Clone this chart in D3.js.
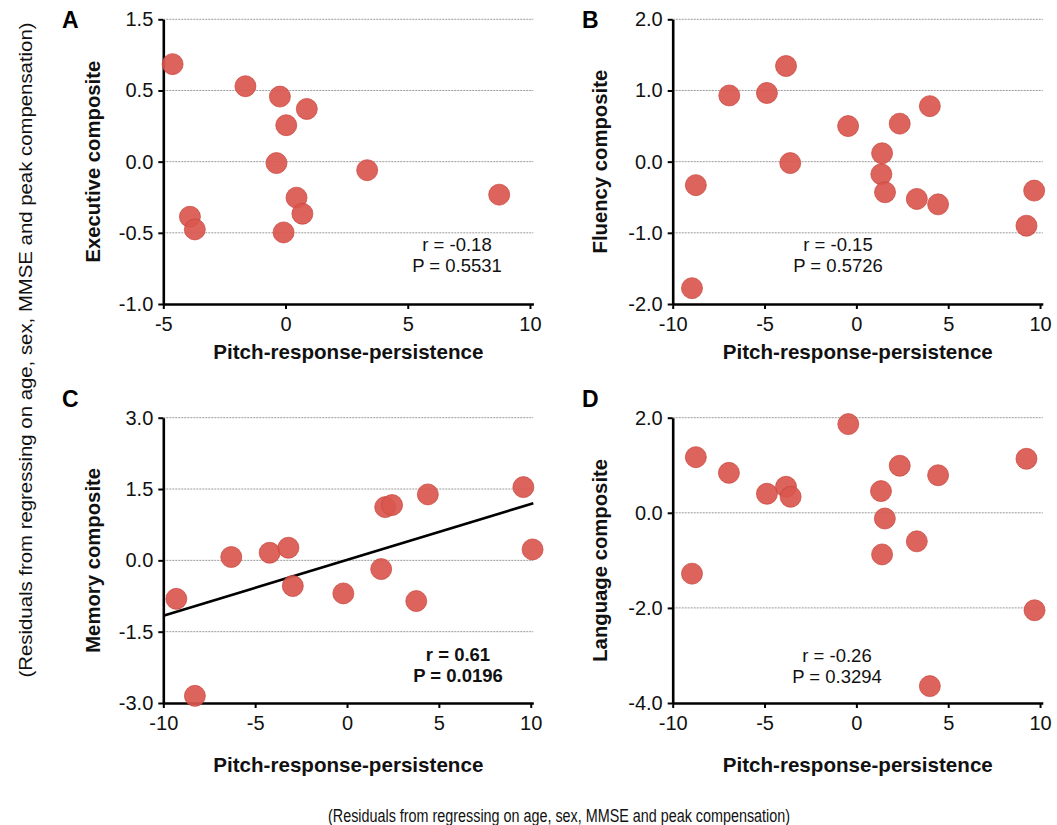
<!DOCTYPE html>
<html>
<head>
<meta charset="utf-8">
<script src="https://cdn.jsdelivr.net/npm/d3@7"></script>
<style>
  html, body { margin: 0; padding: 0; background: #fff; }
  svg { display: block; font-family: "Liberation Sans", Arial, Helvetica, sans-serif; }
</style>
</head>
<body>
<svg id="chart" width="1057" height="825"></svg>
<script>
// ---------------- DATA ----------------
const panelLetters = ["A", "B", "C", "D"];
const yLabels = ["Executive composite", "Fluency composite", "Memory composite", "Language composite"];
const xLabel = "Pitch-response-persistence";
const residualNote = "(Residuals from regressing on age, sex, MMSE and peak compensation)";

const xTicksA = [-5, 0, 5, 10];
const xTicksBCD = [-10, -5, 0, 5, 10];
// Panel A: tick positions and the labels printed at them (top tick is printed "1.5" in the original)
const yTicksA = [-1.0, -0.5, 0.0, 0.5, 1.0];
const yTickLabelsA = ["-1.0", "-0.5", "0.0", "0.5", "1.5"];
const yTicksB = [-2.0, -1.0, 0.0, 1.0, 2.0];
const yTicksC = [-3.0, -1.5, 0.0, 1.5, 3.0];
const yTicksD = [-4.0, -2.0, 0.0, 2.0];

// Panel A: Executive composite
const xA = [-4.62, -1.64, -0.23, 0.87, 0.03, -0.37, 3.34, 8.74, 0.45, 0.69, -3.91, -3.71, -0.08];
const yA = [0.685, 0.53, 0.457, 0.37, 0.256, -0.01, -0.06, -0.232, -0.253, -0.366, -0.387, -0.476, -0.497];

// Panel B: Fluency composite
const xB = [-6.92, -4.87, -3.83, -0.45, 2.36, 4.0, -8.74, -3.6, 1.40, 1.36, 1.56, 3.29, 4.45, 9.68, 9.26, -8.95];
const yB = [0.93, 0.965, 1.344, 0.50, 0.534, 0.78, -0.33, -0.02, 0.118, -0.177, -0.43, -0.524, -0.60, -0.407, -0.90, -1.778];

// Panel C: Memory composite
const xC = [-9.29, -8.28, -6.30, -4.21, -3.19, -2.95, -0.2, 1.86, 2.08, 2.45, 4.40, 3.77, 9.6, 10.1];
const yC = [-0.81, -2.85, 0.07, 0.16, 0.265, -0.54, -0.695, -0.183, 1.12, 1.163, 1.387, -0.856, 1.54, 0.23];
const fitXC = [-10, 10.14];
const fitYC = [-1.165, 1.20];

// Panel D: Language composite
const xD = [-0.44, -8.74, -6.94, -4.87, -3.83, -3.58, 2.36, 4.45, 9.26, 1.34, 1.55, 3.29, 1.40, -8.95, 9.70, 4.0];
const yD = [1.865, 1.17, 0.84, 0.40, 0.547, 0.337, 0.99, 0.79, 1.136, 0.456, -0.12, -0.60, -0.875, -1.28, -2.05, -3.645];

const statR = ["r = -0.18", "r = -0.15", "r = 0.61", "r = -0.26"];
const statP = ["P = 0.5531", "P = 0.5726", "P = 0.0196", "P = 0.3294"];
const statBold = [false, false, true, false];

// ---------------- LAYOUT ----------------
const panels = [
  { xs: xA, ys: yA, xDom: [-5, 10.14], yDom: [-1.0, 1.0], xT: xTicksA, yT: yTicksA, yTL: yTickLabelsA,
    left: 163.3, right: 533.4, top: 19.3, bottom: 304, statX: 457, statY: 251 },
  { xs: xB, ys: yB, xDom: [-10, 10.15], yDom: [-2.0, 2.0], xT: xTicksBCD, yT: yTicksB,
    left: 672.7, right: 1042.8, top: 19.3, bottom: 304, statX: 838, statY: 251 },
  { xs: xC, ys: yC, xDom: [-10, 10.14], yDom: [-3.0, 3.0], xT: xTicksBCD, yT: yTicksC,
    left: 163.3, right: 533.3, top: 417.7, bottom: 703, statX: 458, statY: 661,
    fit: { xs: fitXC, ys: fitYC } },
  { xs: xD, ys: yD, xDom: [-10, 10.15], yDom: [-4.0, 2.0], xT: xTicksBCD, yT: yTicksD,
    left: 672.7, right: 1042.8, top: 417.7, bottom: 703, statX: 837, statY: 662 }
];

const svg = d3.select("#chart");
const dotFill = "#d9574e";
const fmtX = d => String(d);

panels.forEach((p, i) => {
  const x = d3.scaleLinear().domain(p.xDom).range([p.left, p.right]);
  const y = d3.scaleLinear().domain(p.yDom).range([p.bottom, p.top]);
  const g = svg.append("g");
  const fmtY = p.yTL ? (d => p.yTL[p.yT.indexOf(d)]) : (d => d.toFixed(1));

  // gridlines (dotted)
  g.append("g").selectAll("line")
    .data(p.yT.filter(v => v !== p.yDom[0]))
    .join("line")
    .attr("x1", p.left).attr("x2", p.right)
    .attr("y1", d => y(d)).attr("y2", d => y(d))
    .attr("stroke", "#9a9a9a").attr("stroke-width", 1)
    .attr("stroke-dasharray", "2,1");

  // y axis
  const yAxis = d3.axisLeft(y).tickValues(p.yT).tickFormat(fmtY).tickSize(5).tickSizeOuter(0).tickPadding(5);
  const ya = g.append("g").attr("transform", `translate(${p.left},0)`).call(yAxis);
  // x axis
  const xAxis = d3.axisBottom(x).tickValues(p.xT).tickFormat(fmtX).tickSize(5).tickSizeOuter(0).tickPadding(8);
  const xa = g.append("g").attr("transform", `translate(0,${p.bottom})`).call(xAxis);

  [ya, xa].forEach(a => {
    a.select(".domain").attr("stroke", "#000").attr("stroke-width", 2.6);
    a.selectAll(".tick line").attr("stroke", "#000").attr("stroke-width", 2);
    a.selectAll(".tick text").attr("fill", "#111").style("font-size", "20px")
      .style("font-family", "'Liberation Sans', Arial, sans-serif");
  });

  // fit line
  if (p.fit) {
    g.append("line")
      .attr("x1", x(p.fit.xs[0])).attr("y1", y(p.fit.ys[0]))
      .attr("x2", x(p.fit.xs[1])).attr("y2", y(p.fit.ys[1]))
      .attr("stroke", "#000").attr("stroke-width", 2.6);
  }

  // dots
  g.append("g").selectAll("circle")
    .data(p.xs.map((v, k) => [v, p.ys[k]]))
    .join("circle")
    .attr("cx", d => x(d[0])).attr("cy", d => y(d[1]))
    .attr("r", 10.5)
    .attr("fill", dotFill).attr("fill-opacity", 0.92)
    .attr("stroke", "#c8443c").attr("stroke-width", 0.7);

  // stats
  const st = g.append("text")
    .attr("text-anchor", "middle")
    .attr("fill", "#111")
    .style("font-size", "18.5px")
    .style("font-weight", statBold[i] ? "bold" : "normal");
  st.append("tspan").attr("x", p.statX).attr("y", p.statY).text(statR[i]);
  st.append("tspan").attr("x", p.statX).attr("y", p.statY + 21).text(statP[i]);

  // panel letter
  svg.append("text")
    .attr("x", i % 2 === 0 ? 62 : 582)
    .attr("y", i < 2 ? 28 : 407)
    .style("font-size", "23px").style("font-weight", "bold")
    .attr("fill", "#000")
    .text(panelLetters[i]);

  // y label
  const ylx = i % 2 === 0 ? 100 : 607;
  const ylY = (p.top + p.bottom) / 2;
  svg.append("text")
    .attr("transform", `translate(${ylx},${ylY}) rotate(-90)`)
    .attr("text-anchor", "middle")
    .style("font-size", "20.3px").style("font-weight", "bold")
    .attr("fill", "#111")
    .text(yLabels[i]);

  // x label
  svg.append("text")
    .attr("x", (p.left + p.right) / 2)
    .attr("y", i < 2 ? 359 : 772)
    .attr("text-anchor", "middle")
    .style("font-size", "20.6px").style("font-weight", "bold")
    .attr("fill", "#111")
    .text(xLabel);
});

// global residual notes
svg.append("text")
  .attr("transform", `translate(32,350) rotate(-90)`)
  .attr("text-anchor", "middle")
  .attr("textLength", 655).attr("lengthAdjust", "spacingAndGlyphs")
  .style("font-size", "18px")
  .attr("fill", "#111")
  .text(residualNote);

svg.append("text")
  .attr("x", 559).attr("y", 822)
  .attr("text-anchor", "middle")
  .attr("textLength", 462).attr("lengthAdjust", "spacingAndGlyphs")
  .style("font-size", "17.5px")
  .attr("fill", "#111")
  .text(residualNote);
</script>
</body>
</html>
